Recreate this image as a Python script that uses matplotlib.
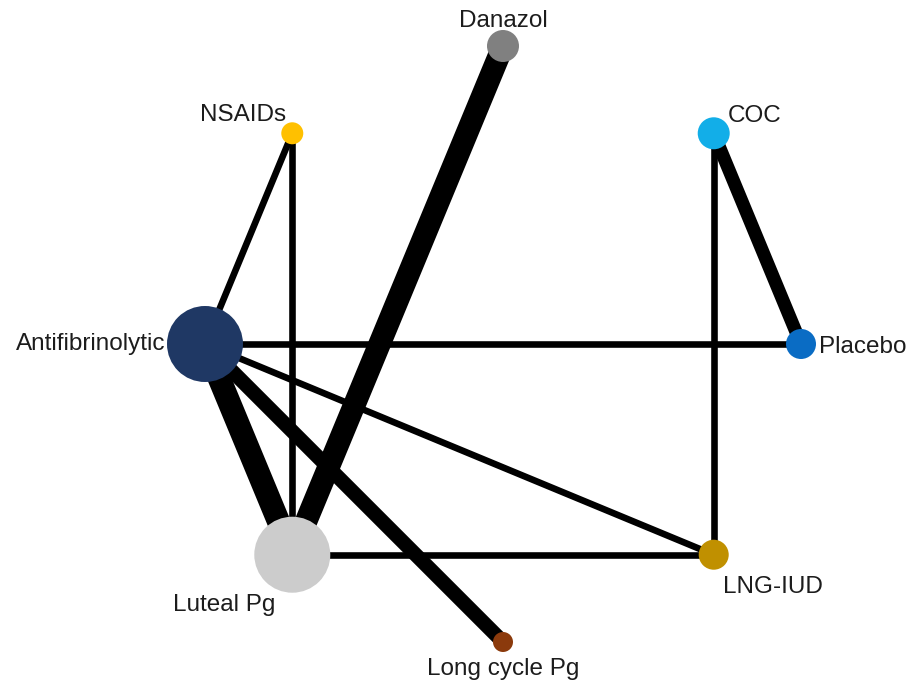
import numpy as np
import matplotlib.pyplot as plt

# treatments, in order round the circle (clockwise from the top)
nodes = ["Danazol", "COC", "Placebo", "LNG-IUD", "Long cycle Pg",
         "Luteal Pg", "Antifibrinolytic", "NSAIDs"]
node_colors = ["#808080", "#12aee8", "#0a6cc4", "#c09000", "#8b3a0c",
               "#cccccc", "#1f3864", "#ffc000"]
# relative node weight (drawn as circle radius)
node_weight = [1.6, 1.6, 1.5, 1.5, 1.0, 3.8, 3.8, 1.1]

# direct comparisons and number of trials per comparison
edges = [("NSAIDs", "Antifibrinolytic", 1),
         ("NSAIDs", "Luteal Pg", 1),
         ("Danazol", "Luteal Pg", 3.4),
         ("COC", "Placebo", 2),
         ("COC", "LNG-IUD", 1),
         ("Antifibrinolytic", "Placebo", 1),
         ("Antifibrinolytic", "LNG-IUD", 1),
         ("Antifibrinolytic", "Luteal Pg", 3.5),
         ("Antifibrinolytic", "Long cycle Pg", 2.2),
         ("Luteal Pg", "LNG-IUD", 1)]

# circular layout, px scale 298 per unit
R_PX = 298.0
angles = np.deg2rad(90 - 45 * np.arange(len(nodes)))
pos = {n: (np.cos(a), np.sin(a)) for n, a in zip(nodes, angles)}

fig = plt.figure(figsize=(9.12, 6.88), dpi=100)
ax = fig.add_axes([0, 0, 1, 1])
ax.set_xlim(-503 / R_PX, (912 - 503) / R_PX)
ax.set_ylim(-(688 - 344) / R_PX, 344 / R_PX)
ax.set_aspect("equal")
ax.axis("off")

px2pt = 72 / 100
for a, b, w in edges:
    (x0, y0), (x1, y1) = pos[a], pos[b]
    ax.plot([x0, x1], [y0, y1], color="black", lw=6.6 * w * px2pt,
            solid_capstyle="butt", zorder=1)

for n, c, w in zip(nodes, node_colors, node_weight):
    x, y = pos[n]
    r = 10 * w / R_PX
    ax.add_patch(plt.Circle((x, y), r, color=c, zorder=3, lw=0))

# label placement around each node (pixel offsets, alignment)
label_style = {
    "Danazol": (0, 25, "center", "center"),
    "COC": (14, 17, "left", "center"),
    "Placebo": (18, -3, "left", "center"),
    "LNG-IUD": (9, -32, "left", "center"),
    "Long cycle Pg": (0, -27, "center", "center"),
    "Luteal Pg": (-17, -50, "right", "center"),
    "Antifibrinolytic": (-40, 0, "right", "center"),
    "NSAIDs": (-6, 18, "right", "center"),
}
for n in nodes:
    x, y = pos[n]
    dx, dy, ha, va = label_style[n]
    ax.text(x + dx / R_PX, y + dy / R_PX, n, ha=ha, va=va,
            fontsize=17.5, family="Liberation Sans", color="#1c1c1c",
            zorder=4)

fig.savefig("out.png", dpi=100)
